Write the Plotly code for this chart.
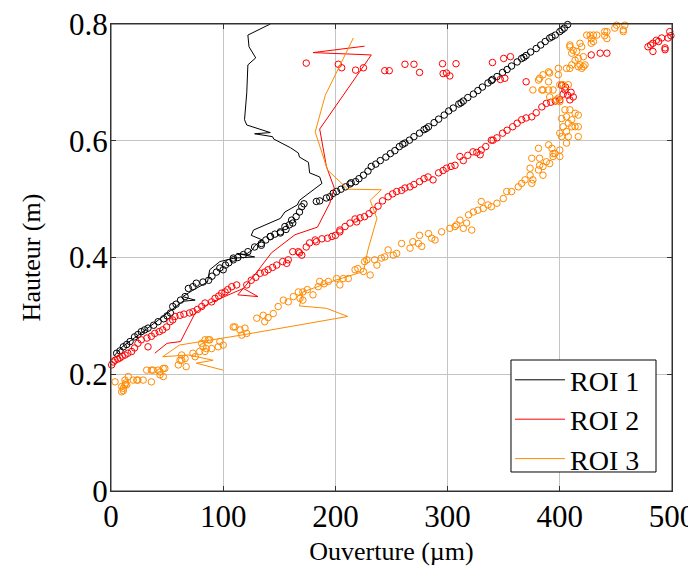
import plotly.graph_objects as go

# ---------------- data ----------------
roi1_line_x = [3, 10, 28, 40, 53, 64, 75, 64, 73, 86, 88, 97, 110, 128, 112, 120, 126, 128, 135, 125, 127,
               151, 155, 161, 166, 168, 176, 188, 186, 177, 176, 168, 167, 160, 145, 144, 128, 142, 121, 119,
               121, 122, 129, 123, 122, 142]
roi1_line_y = [0.232, 0.247, 0.272, 0.290, 0.310, 0.325, 0.327, 0.333, 0.344, 0.358, 0.379, 0.393, 0.399,
               0.401, 0.407, 0.405, 0.413, 0.420, 0.430, 0.438, 0.447, 0.467, 0.478, 0.485, 0.490, 0.498,
               0.510, 0.527, 0.538, 0.545, 0.563, 0.572, 0.579, 0.588, 0.603, 0.607, 0.612, 0.614, 0.627,
               0.636, 0.682, 0.730, 0.742, 0.761, 0.781, 0.800]

roi2_line_x = [39, 50, 62, 75, 88, 118, 131, 113, 128, 143, 164, 184, 195, 199, 192, 186, 232, 180, 226]
roi2_line_y = [0.236, 0.253, 0.256, 0.305, 0.322, 0.347, 0.333, 0.336, 0.370, 0.408, 0.439, 0.452, 0.493,
               0.519, 0.556, 0.620, 0.747, 0.751, 0.762]

roi3_line_x = [100, 76, 91, 69, 46, 61, 116, 177, 211, 192, 168, 171, 200, 225, 229, 237, 231, 241, 211,
               193, 182, 191, 216]
roi3_line_y = [0.207, 0.219, 0.224, 0.233, 0.230, 0.250, 0.267, 0.288, 0.299, 0.313, 0.317, 0.341, 0.361,
               0.376, 0.413, 0.467, 0.498, 0.516, 0.517, 0.550, 0.615, 0.678, 0.776]

roi1_pts_x = [5, 8, 11, 14, 17, 21, 24, 27, 30, 33, 38, 42, 47, 50, 53, 55, 58, 62, 66, 69, 73, 76, 82, 87,
              90, 94, 97, 102, 105, 109, 113, 118, 122, 128, 134, 138, 142, 146, 151, 155, 159, 161, 165, 168,
              170, 172, 183, 186, 192, 195, 198, 201, 205, 209, 213, 218, 221, 225, 229, 232, 236, 240, 245,
              249, 253, 257, 262, 266, 270, 275, 279, 283, 288, 292, 297, 301, 305, 310, 314, 318, 323, 327,
              331, 336, 340, 344, 349, 353, 357, 362, 366, 370, 374, 379, 383, 387, 391, 396, 400, 404, 407,
              100, 109, 134, 142, 151, 156, 162, 214, 260, 281, 312, 339, 368, 393, 402]
roi1_pts_y = [0.236, 0.240, 0.247, 0.251, 0.256, 0.264, 0.268, 0.273, 0.276, 0.279, 0.284, 0.290, 0.295,
              0.300, 0.305, 0.316, 0.320, 0.327, 0.333, 0.347, 0.350, 0.356, 0.358, 0.361, 0.368, 0.375,
              0.382, 0.387, 0.391, 0.396, 0.400, 0.405, 0.410, 0.418, 0.424, 0.430, 0.436, 0.440, 0.444,
              0.453, 0.456, 0.464, 0.470, 0.478, 0.487, 0.492, 0.496, 0.497, 0.502, 0.504, 0.510, 0.513,
              0.517, 0.521, 0.526, 0.530, 0.535, 0.541, 0.548, 0.556, 0.560, 0.566, 0.572, 0.578, 0.583,
              0.590, 0.596, 0.601, 0.607, 0.613, 0.619, 0.624, 0.631, 0.637, 0.644, 0.651, 0.656, 0.663,
              0.668, 0.674, 0.680, 0.686, 0.692, 0.699, 0.705, 0.710, 0.717, 0.722, 0.728, 0.735, 0.741,
              0.746, 0.752, 0.758, 0.764, 0.770, 0.776, 0.781, 0.787, 0.793, 0.799,
              0.379, 0.399, 0.421, 0.436, 0.442, 0.448, 0.459, 0.528, 0.594, 0.621, 0.665, 0.703, 0.743,
              0.778, 0.790]

roi2_pts_x = [0.6, 2, 3.6, 6, 8, 10, 12.5, 15, 18.4, 21, 24, 27, 32, 33, 36, 39, 43, 46, 49.6, 52.6, 55, 57,
              61.5, 65, 70, 73, 77, 80.8, 83.8, 89.7, 92.7, 96, 98.7, 101.6, 104, 107.6, 112, 121, 125, 129,
              133, 137, 140, 144, 147.7, 153, 156.6, 158, 162, 167, 170, 168, 174, 177, 182, 183, 188, 193,
              197, 200, 204, 204, 208.6, 213, 217.5, 219, 222, 226, 230, 233.6, 238, 242, 247, 251, 254.6,
              259, 262, 266.5, 270, 275, 279, 282.6, 287, 292, 296, 299, 303, 306.6, 311, 314, 318, 322.6,
              326, 330, 329, 334, 339, 340.5, 344, 349, 353, 358, 362, 366, 370, 375, 379, 384, 388, 392,
              396, 400, 404.6, 407, 409, 401.6, 405, 410, 412, 403,
              370, 347, 351, 350, 356,
              174, 202.6, 205.6, 218, 225, 244, 248, 262, 270, 275, 295.5, 307.5, 296, 299, 302, 340, 428,
              436, 442,
              478.6, 483, 486, 490.8, 493.8, 498, 496.5, 483, 481, 488, 493.8, 499]
roi2_pts_y = [0.216, 0.221, 0.224, 0.226, 0.228, 0.231, 0.233, 0.236, 0.239, 0.245, 0.253, 0.259, 0.262,
              0.247, 0.265, 0.270, 0.273, 0.276, 0.281, 0.290, 0.293, 0.299, 0.301, 0.303, 0.305, 0.307,
              0.311, 0.316, 0.322, 0.324, 0.330, 0.334, 0.339, 0.341, 0.345, 0.350, 0.353, 0.353, 0.361,
              0.366, 0.373, 0.375, 0.379, 0.383, 0.387, 0.393, 0.390, 0.396, 0.410, 0.410, 0.404, 0.408,
              0.418, 0.425, 0.430, 0.427, 0.432, 0.433, 0.436, 0.438, 0.447, 0.444, 0.453, 0.459, 0.466,
              0.461, 0.468, 0.470, 0.475, 0.481, 0.488, 0.497, 0.504, 0.509, 0.513, 0.515, 0.519, 0.521,
              0.525, 0.530, 0.535, 0.538, 0.533, 0.545, 0.549, 0.553, 0.556, 0.558, 0.573, 0.566, 0.575,
              0.581, 0.580, 0.584, 0.576, 0.590, 0.601, 0.601, 0.605, 0.613, 0.618, 0.624, 0.630, 0.636,
              0.639, 0.641, 0.648, 0.658, 0.664, 0.666, 0.668, 0.670, 0.687, 0.678, 0.670, 0.695, 0.692,
              0.683, 0.675, 0.680,
              0.701, 0.705, 0.707, 0.741, 0.744,
              0.733, 0.731, 0.725, 0.721, 0.725, 0.720, 0.720, 0.731, 0.731, 0.717, 0.732, 0.732, 0.715,
              0.716, 0.711, 0.734, 0.747, 0.750, 0.750,
              0.761, 0.767, 0.772, 0.776, 0.759, 0.787, 0.776, 0.753, 0.764, 0.770, 0.756, 0.780]

roi3_pts_x = [3.6, 9.5, 9.5, 11, 12.5, 12.5, 14, 15.4, 11, 13, 19.8, 23, 24, 28.7, 31.8, 36, 36, 37.6, 42,
              43.7, 43.7, 46.6, 48, 46.6,
              60, 61.5, 63, 63, 66, 67, 73, 75, 79, 80.8, 82, 83.8, 83.8, 85, 86.7, 88, 89.7, 95.6, 97, 100,
              109, 110.5, 115, 116.5, 119.4, 121, 129.9, 135.7, 137, 140, 144.6, 149, 153.6, 158, 162.5, 167,
              168.5, 171, 171, 175, 180, 184.7, 186, 190, 193.7, 201, 204, 207, 211.5, 217.5, 220, 225, 226,
              228, 231, 235, 237, 241, 244, 247, 251.6, 254.6, 259, 266.5, 269, 274, 275, 277, 283, 285.8,
              288.8, 294.7, 302, 306.6, 308, 311, 314, 317, 318.7, 321.5, 323, 327, 330, 331.8, 336, 339, 344,
              349.6, 352.7, 357, 363, 366, 369, 373.5, 375, 376, 373.5, 381, 385, 382, 385, 375, 382, 388, 391,
              390, 393, 394, 395.7, 381, 400, 400, 406, 394,
              401.6, 407.6, 416.5, 400, 406, 403, 410.6, 413.6, 416.5, 407.6, 410.6, 401.6, 406, 416.5, 413.6,
              404.6, 409, 400, 398.7, 391, 397, 385, 390, 394, 376, 384, 400, 403, 407.6, 390, 381, 382, 385,
              391, 390, 398.7, 398.7, 406, 409, 410.6, 416.5, 421, 418, 422.5, 419.5, 413.6, 416.5, 421, 410.6,
              412, 415, 409, 409, 418, 419.5, 428, 424, 427, 430, 433, 428, 430, 440, 442, 440, 442, 449,
              450.6, 455, 458, 461, 456.6, 456.6]
roi3_pts_y = [0.187, 0.179, 0.170, 0.172, 0.190, 0.182, 0.182, 0.196, 0.176, 0.185, 0.190, 0.190, 0.190,
              0.190, 0.207, 0.207, 0.187, 0.207, 0.207, 0.199, 0.204, 0.196, 0.210, 0.210,
              0.216, 0.224, 0.224, 0.233, 0.227, 0.213, 0.236, 0.230, 0.239, 0.253, 0.247, 0.259, 0.239,
              0.244, 0.259, 0.259, 0.244, 0.247, 0.256, 0.250, 0.281, 0.281, 0.276, 0.267, 0.279, 0.270,
              0.296, 0.301, 0.290, 0.297, 0.304, 0.316, 0.327, 0.324, 0.333, 0.341, 0.330, 0.327, 0.341,
              0.345, 0.336, 0.350, 0.359, 0.355, 0.359, 0.364, 0.353, 0.364, 0.364, 0.379, 0.381, 0.376,
              0.393, 0.396, 0.370, 0.396, 0.387, 0.399, 0.401, 0.413, 0.404, 0.407, 0.424, 0.416, 0.427,
              0.424, 0.438, 0.419, 0.441, 0.433, 0.430, 0.444, 0.450, 0.453, 0.456, 0.464, 0.450, 0.459,
              0.473, 0.447, 0.478, 0.481, 0.496, 0.484, 0.490, 0.487, 0.493, 0.501, 0.513, 0.513, 0.521,
              0.527, 0.533, 0.541, 0.527, 0.533, 0.553, 0.550, 0.541, 0.558, 0.556, 0.570, 0.570, 0.564,
              0.561, 0.593, 0.587, 0.573, 0.578, 0.587, 0.584, 0.573, 0.596, 0.578,
              0.607, 0.607, 0.607, 0.613, 0.616, 0.624, 0.624, 0.624, 0.624, 0.630, 0.636, 0.638, 0.641,
              0.644, 0.647, 0.653, 0.653, 0.667, 0.673, 0.675, 0.670, 0.687, 0.687, 0.687, 0.687, 0.687,
              0.696, 0.696, 0.696, 0.701, 0.704, 0.707, 0.713, 0.716, 0.718, 0.713, 0.724, 0.724, 0.724,
              0.730, 0.727, 0.727, 0.730, 0.730, 0.724, 0.738, 0.741, 0.744, 0.750, 0.755, 0.753, 0.761,
              0.764, 0.767, 0.761, 0.767, 0.781, 0.781, 0.781, 0.781, 0.775, 0.770, 0.787, 0.775, 0.780,
              0.787, 0.793, 0.798, 0.801, 0.798, 0.801, 0.790, 0.787]

names = ["ROI 1", "ROI 2", "ROI 3"]
colors = ["#000000", "#ff0000", "#ff8a00"]

x_ticks = [0, 100, 200, 300, 400, 500]
y_ticks = [0, 0.2, 0.4, 0.6, 0.8]
y_tick_text = ["0", "0.2", "0.4", "0.6", "0.8"]

# ---------------- figure ----------------
FONT = "Liberation Serif, Times New Roman, serif"
FS_TICK = 31
FS_TITLE = 26
FS_LEG = 28
fig = go.Figure()

pts = [(roi1_pts_x, roi1_pts_y), (roi2_pts_x, roi2_pts_y), (roi3_pts_x, roi3_pts_y)]
lines = [(roi1_line_x, roi1_line_y), (roi2_line_x, roi2_line_y), (roi3_line_x, roi3_line_y)]

for (px, py), c in zip(pts, colors):
    fig.add_trace(go.Scatter(x=px, y=py, mode="markers", showlegend=False, cliponaxis=False,
                             marker=dict(symbol="circle-open", size=6.5, color=c, line=dict(width=1, color=c))))
for (lx, ly), c, n in zip(lines, colors, names):
    fig.add_trace(go.Scatter(x=lx, y=ly, mode="lines", name=n, legendgroup=n,
                             line=dict(color=c, width=1)))

axis_common = dict(showline=True, linecolor="#333333", linewidth=1, mirror="ticks",
                   ticks="inside", ticklen=5, tickcolor="#333333",
                   showgrid=True, gridcolor="#c4c4c4", gridwidth=1, zeroline=False,
                   ticklabeloverflow="allow",
                   tickfont=dict(family=FONT, size=FS_TICK, color="black"))

fig.update_xaxes(range=[0, 500], tickvals=x_ticks, ticktext=[str(v) for v in x_ticks],
                 ticklabelstandoff=-2,
                 title=dict(text="Ouverture (µm)", font=dict(family=FONT, size=FS_TITLE, color="black"), standoff=8),
                 **axis_common)
fig.update_yaxes(range=[0, 0.8], tickvals=y_ticks, ticktext=y_tick_text,
                 ticklabelstandoff=-4,
                 title=dict(text="Hauteur (m)", font=dict(family=FONT, size=FS_TITLE, color="black"), standoff=20),
                 **axis_common)

# legend frame (white box with black border, drawn over the grid)
fig.add_shape(type="rect", xref="paper", yref="paper", x0=0.713, x1=0.9715, y0=0.0407, y1=0.2805,
              line=dict(color="black", width=1), fillcolor="white", layer="above")
# plot frame
fig.add_shape(type="rect", xref="paper", yref="paper", x0=0, x1=1, y0=0, y1=1,
              line=dict(color="#333333", width=1), fillcolor="rgba(0,0,0,0)", layer="above")

fig.update_layout(
    width=688, height=562,
    margin=dict(l=103, r=24, t=16, b=79, autoexpand=False),
    paper_bgcolor="white", plot_bgcolor="white",
    font=dict(family=FONT, size=FS_TITLE, color="black"),
    legend=dict(x=0.7112, y=0.291, xanchor="left", yanchor="top",
                bgcolor="rgba(0,0,0,0)", borderwidth=0,
                font=dict(family=FONT, size=FS_LEG, color="black"),
                traceorder="grouped", tracegroupgap=0, itemwidth=50),
)

fig.write_html("out.html")
